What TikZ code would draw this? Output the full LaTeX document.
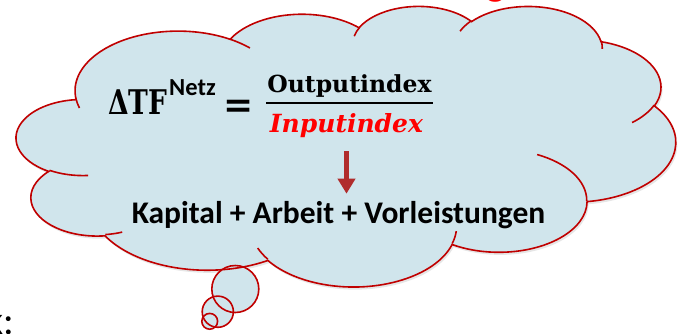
\documentclass[tikz,border=0pt]{standalone}
\usepackage{fontspec}
\usepackage{graphicx}
\usetikzlibrary{arrows.meta}
\newfontfamily\calfont{Carlito}
\newfontfamily\formfont{DejaVu Serif}

\definecolor{cloudfill}{RGB}{208,229,236}
\definecolor{cloudred}{RGB}{192,0,0}
\definecolor{arrowred}{RGB}{176,44,44}
\definecolor{inred}{RGB}{255,0,0}

% cloud outline (preset cloud, units of 1/100)
\newcommand\cloudpath{(39.00,143.70)
  arc[ooarc={67.53}{91.90}{-190.48748}{123.78053}]
  arc[ooarc={53.33}{72.67}{-144.10238}{89.94523}]
  arc[ooarc={43.65}{59.45}{-145.80792}{99.72302}]
  arc[ooarc={48.57}{65.95}{-130.98607}{117.24173}]
  arc[ooarc={53.33}{72.73}{-78.70888}{109.02692}]
  arc[ooarc={67.75}{92.20}{-46.26725}{130.26900}]
  arc[ooarc={57.85}{78.67}{0.62502}{114.03333}]
  arc[ooarc={67.52}{92.15}{22.45160}{115.17255}]
  arc[ooarc={77.20}{105.43}{66.24263}{75.71102}]
  arc[ooarc={43.60}{59.18}{-274.94208}{146.73557}]
  arc[ooarc={43.45}{59.45}{-246.82850}{152.51885}] -- cycle}

\begin{document}
\begin{tikzpicture}[x=1pt, y=-1pt,
    ooarc/.style n args={4}{x radius=#1, y radius=#2,
        start angle={atan2((#1)*sin(#3),(#2)*cos(#3))},
        delta angle={atan2((#1)*sin(#3+#4),(#2)*cos(#3+#4))-atan2((#1)*sin(#3),(#2)*cos(#3))
            -360*round((atan2((#1)*sin(#3+#4),(#2)*cos(#3+#4))-atan2((#1)*sin(#3),(#2)*cos(#3))-(#4))/360)}},
    cloudunits/.style={shift={(16.5,5.5)}, x=1.5255pt, y=-0.6493pt},
    cloudbody/.style={fill=cloudfill},
    cloudline/.style={draw=cloudred, line width=1.6pt},
    formula/.style={inner sep=0pt, font=\formfont\bfseries\fontsize{23.5}{28}\selectfont},
    netzfont/.style={inner sep=0pt, font=\calfont\bfseries\fontsize{24.5}{28}\selectfont},
    sumtext/.style={inner sep=0pt, font=\calfont\bfseries\fontsize{31.5}{36}\selectfont},
    fragment/.style={inner sep=0pt, font=\calfont\fontsize{40}{44}\selectfont},
    downarrow/.style={draw=arrowred, line width=5.5pt, -{Triangle[width=17pt, length=15pt]}}
]
    \useasboundingbox (0,0) rectangle (684,333);
    \clip (0,0) rectangle (684,333);

    % Cloud body with shadow
    \begin{scope}[cloudunits]
        \fill[gray, opacity=0.2, shift={(1,4)}] \cloudpath;
        \fill[cloudbody] \cloudpath;
    \end{scope}
    \fill[cloudbody] (235.3,289) circle[radius=23.5];
    \fill[cloudbody] (217.8,311.7) circle[radius=15.6];
    \fill[cloudbody] (209.7,321.3) circle[radius=7.9];

    % Cloud outline and inner arcs
    \begin{scope}[cloudunits]
        \draw[cloudline] \cloudpath;
        \foreach \x/\y/\a/\b/\s/\w in {46.93/261.77/43.45/59.45/86.742/26.4295,
                69.28/348.99/43.60/59.18/73.61047/11.44747,
                164.78/390.90/67.52/92.15/137.62415/14.0811,
                288.27/347.51/67.52/92.15/6.45327/15.99835,
                341.29/229.54/57.85/78.67/-70.29235/70.91737,
                417.98/153.54/53.33/72.73/30.31803/27.7515,
                383.24/54.26/48.57/65.95/-13.74433/14.8589,
                290.78/39.52/48.57/65.95/-149.18145/18.19537,
                221.41/47.20/43.65/59.45/-163.49427/17.68635,
                140.00/51.92/67.53/91.90/-66.70695/12.31935,
                41.27/157.89/67.53/91.90/157.65435/11.85817}
            \draw[cloudline] (\x,\y) arc[ooarc={\a}{\b}{\s}{\w}];
    \end{scope}
    \draw[cloudline] (235.3,289) circle[radius=23.5];
    \draw[cloudline] (217.8,311.7) circle[radius=15.6];
    \draw[cloudline] (209.7,321.3) circle[radius=7.9];

    % Formula
    \node[formula, anchor=base west] (dtf) at (108,114) {\fontsize{34}{36}\selectfont\scalebox{0.78}[1]{ΔTF}};
    \node[netzfont, anchor=base west] (netz) at (169,95) {Netz};
    \node[formula, anchor=base] (eq) at (239,117) {\fontsize{36}{36}\selectfont =};
    \node[formula, anchor=base] (out) at (349.5,92) {Outputindex};
    \node[formula, font=\formfont\bfseries\itshape\fontsize{25}{28}\selectfont, text=inred, anchor=base] (inp) at (346.5,132) {Inputindex};
    \draw[line width=2.2pt] (266,103.3) -- (433,103.3);

    % Inputs
    \node[sumtext, anchor=base] (kap) at (338.5,223) {Kapital + Arbeit + Vorleistungen};
    \draw[downarrow, shorten <=14pt, shorten >=7pt] (inp.south) -- (inp.south |- kap.north);

    % Text cut by the frame
    \node[fragment, font=\calfont\bfseries\fontsize{40}{44}\selectfont, text=inred, anchor=base] (gcut) at (495.5,-4.5) {g};
    \node[fragment, anchor=base east] (kcut) at (14.5,334) {k:};
\end{tikzpicture}
\end{document}
